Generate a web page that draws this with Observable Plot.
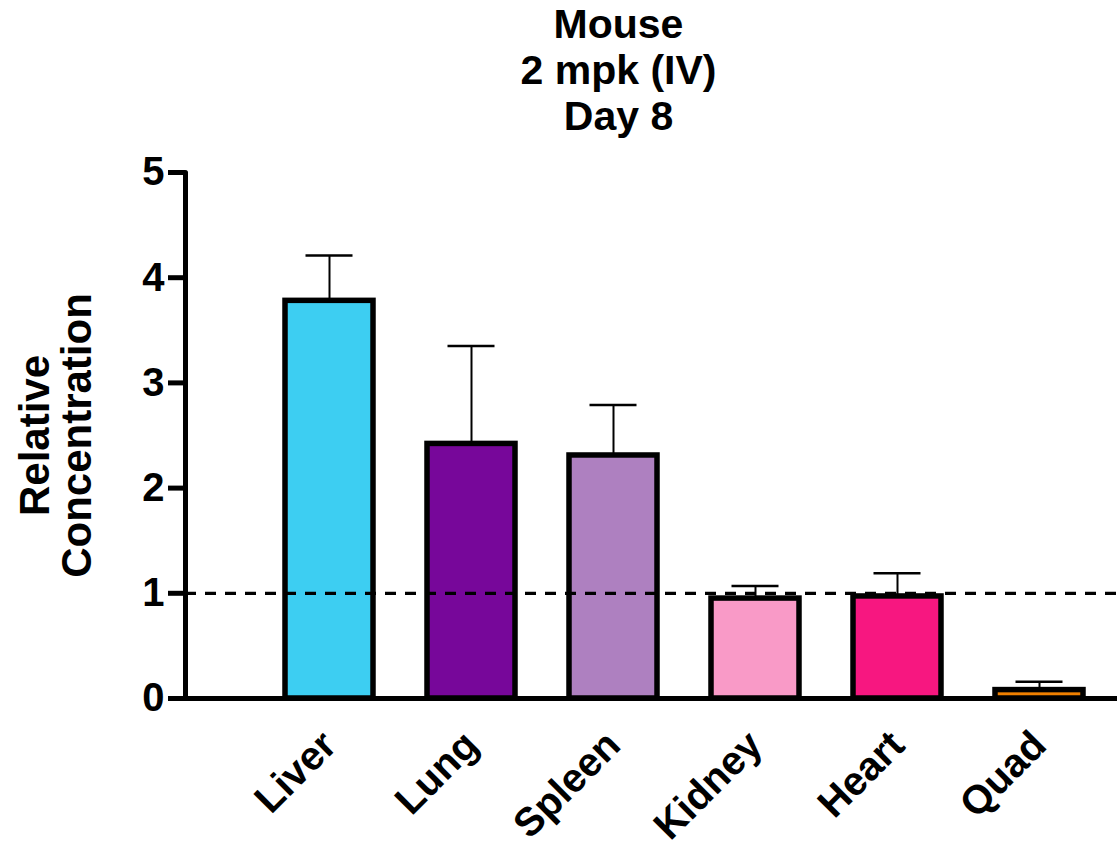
<!DOCTYPE html>
<html>
<head>
<meta charset="utf-8">
<script src="https://cdn.jsdelivr.net/npm/d3@7"></script>
<script src="https://cdn.jsdelivr.net/npm/@observablehq/plot@0.6"></script>
<style>
  html, body { margin: 0; padding: 0; background: #fff; }
  body { width: 1117px; height: 850px; overflow: hidden; font-family: "Liberation Sans", Arial, sans-serif; }
  #title { width: 1117px; height: 150px; box-sizing: border-box; padding-left: 120px; padding-top: 1px;
           text-align: center; font-weight: bold; font-size: 41px; line-height: 46px; color: #000; }
  svg { display: block; }
</style>
</head>
<body>
<div id="title">Mouse<br>2 mpk (IV)<br>Day 8</div>
<div id="chart"></div>
<script>
const organs = ["Liver", "Lung", "Spleen", "Kidney", "Heart", "Quad"];
const means  = [3.78, 2.42, 2.31, 0.95, 0.97, 0.08];
const sds    = [0.43, 0.93, 0.48, 0.12, 0.22, 0.08];
const colors = ["#3DCEF2", "#77079A", "#AE80C0", "#F99AC7", "#F71780", "#F08000"];
const yTicks = [0, 1, 2, 3, 4, 5];
const reference = [1];

const data = organs.map((o, i) => ({organ: o, mean: means[i], upper: means[i] + sds[i], color: colors[i]}));

const chart = Plot.plot({
  width: 1117,
  height: 700,
  marginTop: 22,
  marginBottom: 152,
  marginLeft: 185,
  marginRight: 0,
  style: {fontFamily: '"Liberation Sans", Arial, sans-serif', fontWeight: "bold", color: "#000", background: "#fff"},
  x: {domain: organs, range: [231, 1137], padding: 0.38},
  y: {domain: [0, 5]},
  color: {type: "identity"},
  marks: [
    Plot.barY(data, {x: "organ", y: "mean", fill: "color", stroke: "#000", strokeWidth: 5.5}),
    Plot.ruleX(data, {x: "organ", y1: "mean", y2: "upper", stroke: "#000", strokeWidth: 2}),
    Plot.tickY(data, {x: "organ", y: "upper", stroke: "#000", strokeWidth: 2.5, insetLeft: 20.5, insetRight: 20.5}),
    Plot.ruleY(reference, {stroke: "#000", strokeWidth: 3.3, strokeDasharray: "11,9"}),
    Plot.ruleY([0], {stroke: "#000", strokeWidth: 5}),
    Plot.frame({anchor: "left", stroke: "#000", strokeWidth: 5, strokeLinecap: "round"}),
    Plot.axisY(yTicks, {tickSize: 17, tickPadding: 4, strokeWidth: 5, fontSize: 40, fontWeight: "bold",
      tickFormat: d => String(d), label: null}),
    Plot.axisY({ticks: [], tickSize: 0, fontSize: 42, fontWeight: "bold",
      label: "Relative\nConcentration", labelAnchor: "center", labelArrow: "none", labelOffset: 166}),
    Plot.axisX({tickSize: 0, tickPadding: 40, tickRotate: -45, fontSize: 40, fontWeight: "bold", label: null})
  ]
});
document.getElementById("chart").appendChild(chart);
</script>
</body>
</html>
